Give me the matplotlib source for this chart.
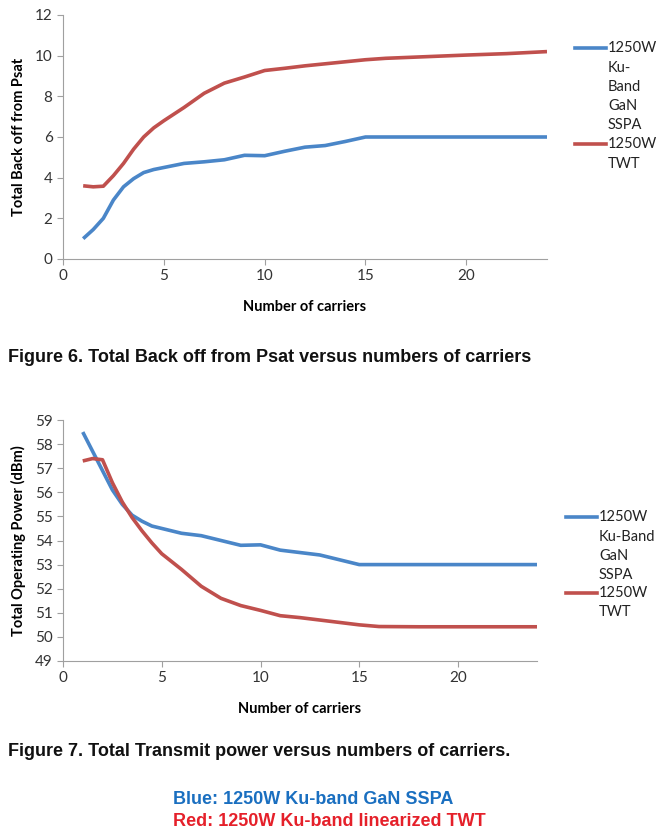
import numpy as np
import matplotlib
matplotlib.use('Agg')
import matplotlib.pyplot as plt
from matplotlib.lines import Line2D

# Figure 6 data: total back off from Psat (dB)
carriers_bo = [1, 1.5, 2, 2.5, 3, 3.5, 4, 4.5, 5, 6, 7, 8, 9, 10, 11, 12, 13, 14, 15, 16, 18, 20, 22, 24]
sspa_bo = [1.0, 1.45, 2.0, 2.9, 3.55, 3.95, 4.25, 4.4, 4.5, 4.7, 4.78, 4.88, 5.1, 5.08, 5.3, 5.5, 5.58, 5.78, 6.0, 6.0, 6.0, 6.0, 6.0, 6.0]
twt_bo = [3.6, 3.55, 3.58, 4.1, 4.7, 5.4, 6.0, 6.45, 6.8, 7.45, 8.15, 8.65, 8.95, 9.27, 9.38, 9.5, 9.6, 9.7, 9.8, 9.87, 9.95, 10.03, 10.1, 10.2]

# Figure 7 data: total operating power (dBm)
carriers_op = [1, 1.5, 2, 2.5, 3, 3.5, 4, 4.5, 5, 6, 7, 8, 9, 10, 11, 12, 13, 14, 15, 16, 18, 20, 22, 24]
sspa_op = [58.5, 57.7, 56.9, 56.1, 55.5, 55.05, 54.8, 54.6, 54.5, 54.3, 54.2, 54.0, 53.8, 53.82, 53.6, 53.5, 53.4, 53.2, 53.0, 53.0, 53.0, 53.0, 53.0, 53.0]
twt_op = [57.3, 57.4, 57.35, 56.4, 55.6, 54.95, 54.4, 53.9, 53.45, 52.8, 52.1, 51.6, 51.3, 51.1, 50.88, 50.8, 50.7, 50.6, 50.5, 50.43, 50.42, 50.42, 50.42, 50.42]

legend_sspa_top = ['1250W', 'Ku-', 'Band', 'GaN', 'SSPA']
legend_sspa_bot = ['1250W', 'Ku-Band', 'GaN', 'SSPA']
legend_twt = ['1250W', 'TWT']

blue = '#4a86c8'
red = '#c0504d'
W, H = 667, 840

fig = plt.figure(figsize=(6.67, 8.4), dpi=100)
plt.rcParams['font.family'] = ['Lato', 'DejaVu Sans']


def px(x, y):
    return x / W, 1 - y / H


def style(ax):
    for s in ['top', 'right']:
        ax.spines[s].set_visible(False)
    for s in ['left', 'bottom']:
        ax.spines[s].set_color('#a0a0a0')
    ax.tick_params(colors='#a0a0a0', labelcolor='#333333', labelsize=11, length=4)
    ax.set_xlim(0, 24)
    ax.set_xticks([0, 5, 10, 15, 20])


def legend(x0, items):
    # items: list of (y, color or None, text)
    for y, c, t in items:
        if c is not None:
            fig.add_artist(Line2D([x0 / W, (x0 + 31) / W], [1 - y / H] * 2, color=c, lw=2.6))
        fig.text((x0 + 33) / W, 1 - y / H, t, fontsize=10.5, va='center', ha='left', color='#222222')


# top chart
l, b = px(63, 259)
r, t = px(547, 15)
ax1 = fig.add_axes([l, b, r - l, t - b])
ax1.plot(carriers_bo, sspa_bo, color=blue, lw=2.6, solid_capstyle='butt')
ax1.plot(carriers_bo, twt_bo, color=red, lw=2.6, solid_capstyle='butt')
ax1.set_ylim(0, 12)
ax1.set_yticks(range(0, 13, 2))
style(ax1)
ax1.set_xlabel('Number of carriers', fontsize=10.5, fontweight='bold', labelpad=12)
ax1.set_ylabel('Total Back off from Psat', fontsize=10.5, fontweight='bold', labelpad=6)

items = []
ys = [48, 68, 87, 106, 125]
for i, txt in enumerate(legend_sspa_top):
    items.append((ys[i], blue if i == 0 else None, txt))
items.append((144, red, legend_twt[0]))
items.append((164, None, legend_twt[1]))
legend(575, items)

# bottom chart
l, b = px(63, 661)
r, t = px(537, 420)
ax2 = fig.add_axes([l, b, r - l, t - b])
ax2.plot(carriers_op, sspa_op, color=blue, lw=2.6, solid_capstyle='butt')
ax2.plot(carriers_op, twt_op, color=red, lw=2.6, solid_capstyle='butt')
ax2.set_ylim(49, 59)
ax2.set_yticks(range(49, 60))
style(ax2)
ax2.set_xlabel('Number of carriers', fontsize=10.5, fontweight='bold', labelpad=12)
ax2.set_ylabel('Total Operating Power (dBm)', fontsize=10.5, fontweight='bold', labelpad=6)

items = []
ys = [517, 537, 556, 575]
for i, txt in enumerate(legend_sspa_bot):
    items.append((ys[i], blue if i == 0 else None, txt))
items.append((593, red, legend_twt[0]))
items.append((612, None, legend_twt[1]))
legend(566, items)

cap = ['Liberation Sans', 'DejaVu Sans']
fig.text(8 / W, 1 - 357 / H, 'Figure 6. Total Back off from Psat versus numbers of carriers',
         fontsize=13, family=cap, weight='bold', va='center', ha='left', color='#111111')
fig.text(8 / W, 1 - 752 / H, 'Figure 7. Total Transmit power versus numbers of carriers.',
         fontsize=13, family=cap, weight='bold', va='center', ha='left', color='#111111')
fig.text(173 / W, 1 - 799 / H, 'Blue: 1250W Ku-band GaN SSPA',
         fontsize=13, family=cap, weight='bold', va='center', ha='left', color='#1a6fc0')
fig.text(173 / W, 1 - 822 / H, 'Red: 1250W Ku-band linearized TWT',
         fontsize=13, family=cap, weight='bold', va='center', ha='left', color='#e5202a')

fig.savefig('out.png', dpi=100)
